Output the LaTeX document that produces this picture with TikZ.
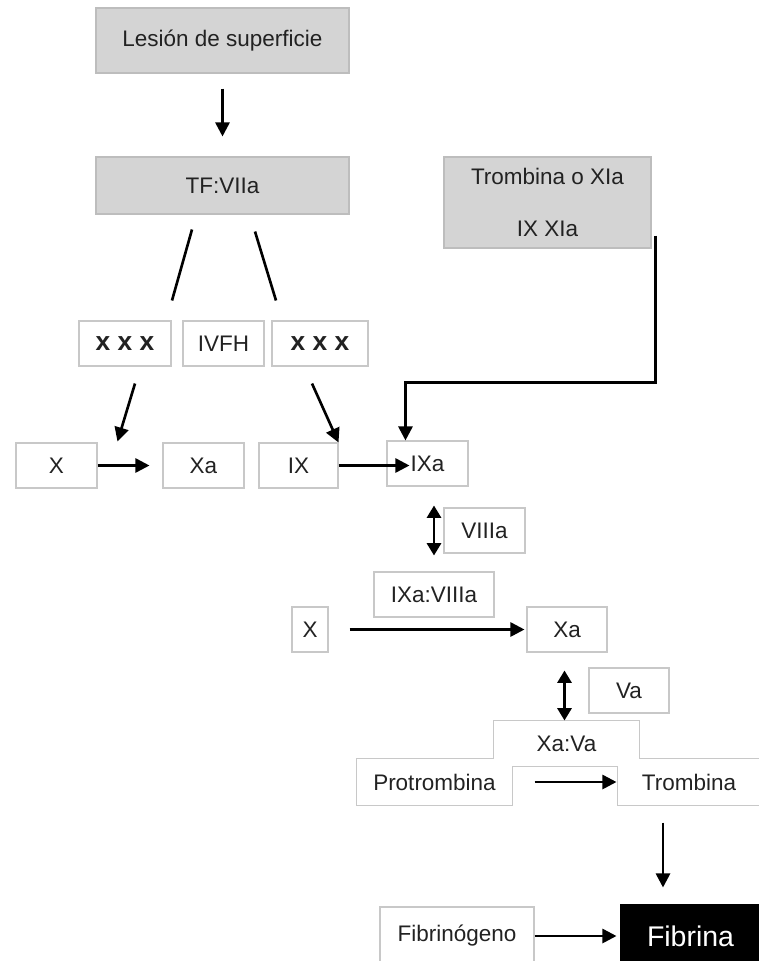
\documentclass[tikz,border=0pt]{standalone}
\usepackage{fontspec}
\setmainfont{Liberation Sans}
\usetikzlibrary{arrows.meta,calc}

\definecolor{boxline}{HTML}{C8C8C8}
\definecolor{boxgray}{HTML}{D4D4D4}
\definecolor{grayline}{HTML}{BDBDBD}
\definecolor{txt}{HTML}{222222}

\begin{document}
\begin{tikzpicture}[x=0.02cm, y=-0.02cm,
  box/.style={draw=boxline, line width=0.6pt, fill=white, text=txt, inner sep=0pt,
    minimum height=0.9cm, font=\fontsize{12.8}{15}\selectfont},
  graybox/.style={box, draw=grayline, fill=boxgray},
  plain/.style={box, draw=none, fill=none},
  arr/.style={-{Triangle[length=8pt,width=8pt]}, line width=1.5pt},
  darr/.style={{Triangle[length=7pt,width=8pt]}-{Triangle[length=7pt,width=8pt]}, line width=1.5pt}]

  \useasboundingbox (0,0) rectangle (758,961);

  % extrinsic path
  \node[graybox, minimum width=5.06cm, minimum height=1.30cm] (lesion) at (222.5,40.5) {Lesión de superficie};
  \node[graybox, minimum width=5.06cm, minimum height=1.14cm] (tf) at (222.5,185.5) {TF:VIIa};
  \node[graybox, minimum width=4.14cm, minimum height=1.82cm, align=center] (trxi) at (547.5,202.5) {Trombina o XIa\\[14.6pt]IX XIa};

  \node[box, minimum width=1.84cm, font=\fontsize{15}{17}\selectfont\bfseries] (xxxl) at (125,343.5) {x x x};
  \node[box, minimum width=1.62cm] (ivfh) at (223.5,343.5) {IVFH};
  \node[box, minimum width=1.92cm, font=\fontsize{15}{17}\selectfont\bfseries] (xxxr) at (320,343.5) {x x x};

  \node[box, minimum width=1.62cm] (x1) at (56.5,465.5) {X};
  \node[box, minimum width=1.62cm] (xa1) at (203.5,465.5) {Xa};
  \node[box, minimum width=1.58cm] (ix) at (298.5,465.5) {IX};
  \node[box, minimum width=1.62cm] (ixa) at (427.5,463.5) {IXa};

  \node[box, minimum width=1.62cm] (viiia) at (484.5,530.5) {VIIIa};
  \node[box, minimum width=2.40cm] (ixaviiia) at (434,594.5) {IXa:VIIIa};
  \node[box, minimum width=0.72cm] (x2) at (310,629.5) {X};
  \node[box, minimum width=1.60cm] (xa2) at (567,629.5) {Xa};

  \node[box, minimum width=1.60cm] (va) at (629,690.5) {Va};

  % prothrombinase
  \node[plain, minimum width=2.90cm] (xava) at (566.5,743.5) {Xa:Va};
  \node[plain, minimum width=3.10cm, minimum height=0.92cm] (prot) at (434.5,782) {Protrombina};
  \node[plain, minimum width=2.84cm, minimum height=0.92cm] (trom) at (689,782) {Trombina};
  \draw[boxline, line width=0.6pt] (prot.south west) -- (prot.north west) -- (prot.north west -| xava.west)
    -- (xava.north west) -- (xava.north east) -- (xava.east |- trom.north) -- (trom.north east)
    -- (trom.south east) -- (trom.south west) -- (trom.west |- xava.south) -- (prot.east |- xava.south)
    -- (prot.south east) -- cycle;

  \node[box, minimum width=3.08cm, minimum height=1.16cm] (fibgen) at (457,936) {Fibrinógeno};
  \node[box, draw=black, fill=black, text=white, minimum width=2.78cm, minimum height=1.24cm,
    font=\fontsize{16.2}{19}\selectfont] (fibrina) at (690.5,936) {Fibrina};

  \draw[arr, shorten <=0.3cm, shorten >=0.4cm] (lesion) -- (tf);

  \draw[line width=1.5pt] ($(tf.south)+(-30.5,15)$) -- ($(xxxl.north)+(47,-20)$);
  \draw[line width=1.5pt] ($(tf.south)+(32.5,17)$) -- ($(xxxr.north)+(-44,-20)$);

  \draw[arr] ($(xxxl.south)+(10,17)$) -- ($(x1.north east)+(20,-1)$);
  \draw[arr] ($(xxxr.south)+(-8,17)$) -- (ix.north east);

  \draw[arr, shorten >=0.26cm] (x1) -- (xa1);
  \draw[arr] (ix.east) -- ($(ixa.west |- ix.east)+(23,0)$);

  \coordinate (bend) at ($(ixa.north west)+(19,-58)$);
  \draw[arr] ($(trxi.south east)+(4,-13)$) |- (bend) -- (bend |- ixa.north);

  \draw[darr, shorten <=0.38cm, shorten >=0.32cm] (ixaviiia.north |- ixa.south) -- (ixaviiia.north);
  \draw[arr, shorten <=0.42cm, shorten >=0.04cm] (x2) -- (xa2);
  \draw[darr, shorten <=0.36cm] ([xshift=-0.05cm]xa2.south) -- ([xshift=-0.05cm]xa2.south |- xava.north);

  \draw[arr, shorten <=0.44cm, shorten >=0.02cm] (prot.east) -- (trom.west);
  \draw[arr, shorten <=0.34cm, shorten >=0.34cm] ([xshift=-0.52cm]trom.south) -- ([xshift=-0.52cm]trom.south |- fibrina.north);
  \draw[arr, shorten >=0.08cm] (fibgen) -- (fibrina);

\end{tikzpicture}
\end{document}
